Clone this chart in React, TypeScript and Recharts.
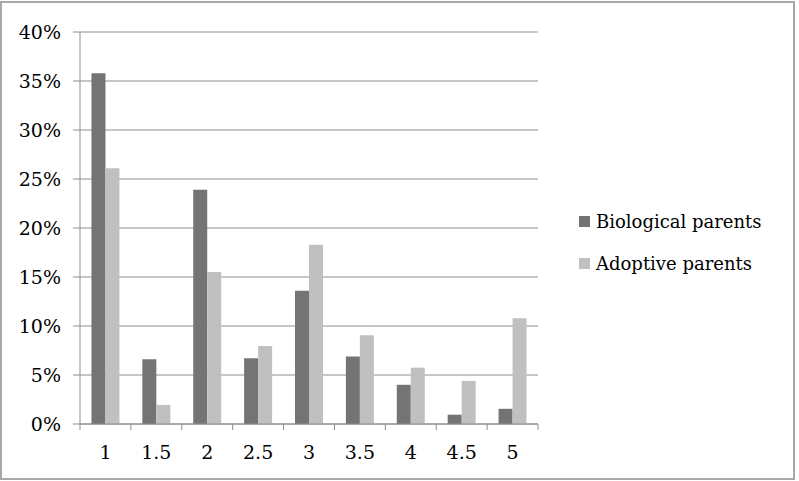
import { Bar, BarChart, CartesianGrid, XAxis, YAxis } from "recharts";

const categories = ["1", "1.5", "2", "2.5", "3", "3.5", "4", "4.5", "5"];
const biological = [35.8, 6.6, 23.9, 6.7, 13.6, 6.9, 4.0, 0.95, 1.55];
const adoptive = [26.1, 1.95, 15.5, 7.95, 18.3, 9.05, 5.75, 4.4, 10.8];
const yTicks = [0, 5, 10, 15, 20, 25, 30, 35, 40];
const seriesNames = ["Biological parents", "Adoptive parents"];

const data = categories.map((c, i) => ({ name: c, bio: biological[i], adopt: adoptive[i] }));

const FONT = "'DejaVu Serif', serif";
const BIO = "#747474";
const ADOPT = "#c0c0c0";
const GRID = "#8e8e8e";

function XTick(props: any) {
    const { x, y, payload, index, visibleTicksCount } = props;
    const half = payload.offset ?? 0;
    const top = y - 22;
    return (
        <g>
            <line x1={x - half} x2={x - half} y1={top} y2={top + 6} stroke={GRID} />
            {index === visibleTicksCount - 1 && (
                <line x1={x + half} x2={x + half} y1={top} y2={top + 6} stroke={GRID} />
            )}
            <text x={x} y={y} dy="0.71em" textAnchor="middle" fill="#000" fontSize={19} fontFamily={FONT}>
                {payload.value}
            </text>
        </g>
    );
}

function LegendBox() {
    const colors = [BIO, ADOPT];
    return (
        <div style={{ position: "absolute", left: 579, top: 200, fontFamily: FONT, fontSize: 18, color: "#000" }}>
            {seriesNames.map((label, i) => (
                <div key={label} style={{ display: "flex", alignItems: "center", height: 42 }}>
                    <span style={{ width: 11, height: 11, background: colors[i], marginRight: 6, display: "inline-block" }} />
                    <span>{label}</span>
                </div>
            ))}
        </div>
    );
}

export default function App() {
    return (
        <div style={{ position: "absolute", left: 0, top: 0, width: 799, height: 481, background: "#fff" }}>
            <svg width={799} height={481} style={{ position: "absolute", left: 0, top: 0 }}>
                <rect x={1} y={2} width={793} height={477} fill="#fff" stroke="#a8a8a8" strokeWidth={2} />
            </svg>
            <div style={{ position: "absolute", left: 0, top: 0 }}>
                <BarChart
                    width={799}
                    height={481}
                    data={data}
                    margin={{ top: 32, right: 261, bottom: 0, left: 0 }}
                    barCategoryGap="22.5%"
                    barGap={0}
                >
                    <CartesianGrid vertical={false} stroke={GRID} />
                    <XAxis
                        dataKey="name"
                        height={57}
                        stroke={GRID}
                        tickLine={false}
                        tickSize={6}
                        tickMargin={16}
                        tick={<XTick />}
                        interval={0}
                    />
                    <YAxis
                        width={80}
                        domain={[0, 40]}
                        ticks={yTicks}
                        tickFormatter={(v) => `${v}%`}
                        stroke={GRID}
                        tickSize={7}
                        tickMargin={12}
                        tick={{ fill: "#000", fontSize: 19, fontFamily: FONT }}
                        interval={0}
                    />
                    <Bar dataKey="bio" name={seriesNames[0]} fill={BIO} isAnimationActive={false} />
                    <Bar dataKey="adopt" name={seriesNames[1]} fill={ADOPT} isAnimationActive={false} />
                </BarChart>
            </div>
            <LegendBox />
        </div>
    );
}
